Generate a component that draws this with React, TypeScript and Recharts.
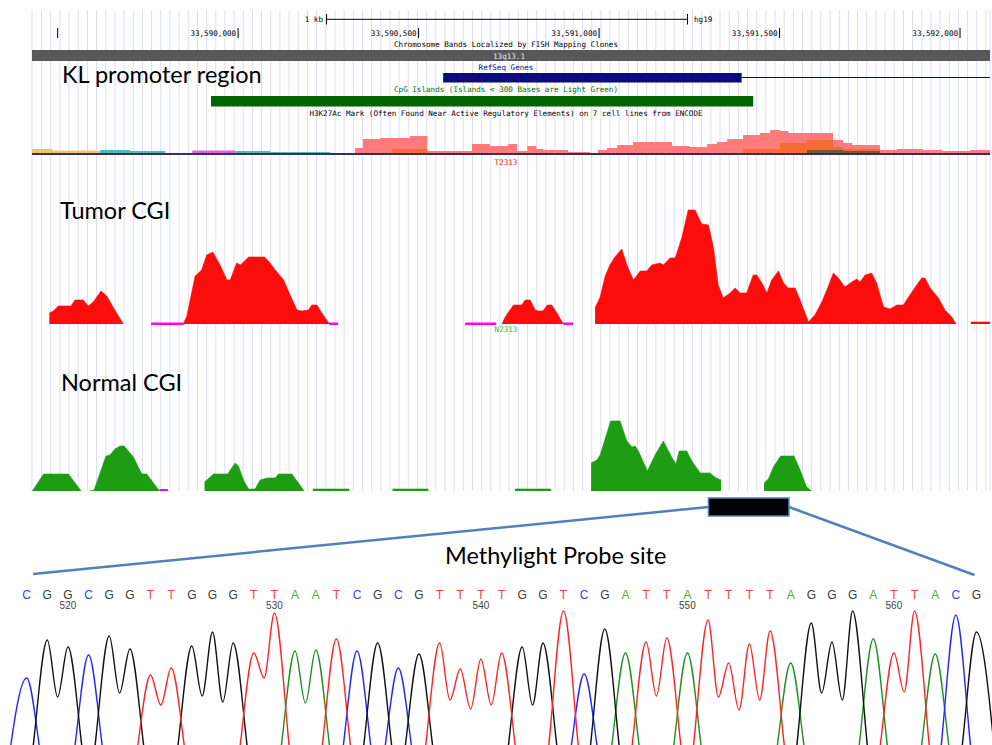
import React from 'react';
import {
  ComposedChart,
  LineChart,
  Line,
  Area,
  XAxis,
  YAxis,
  CartesianGrid,
  ReferenceArea,
  ReferenceLine
} from 'recharts';

// genome browser window, bp relative to chr13:33,590,000 (hg19)
const VIEW_START = -571;
const VIEW_END = 2083;

const rulerTicks = [-500, 0, 500, 1000, 1500, 2000];
const rulerLabels = ['', '33,590,000', '33,590,500', '33,591,000', '33,591,500', '33,592,000'];
const scaleBar = [245, 1245]; // 1 kb

// annotation tracks
const chromBand = { start: -571, end: 2083, name: '13q13.1' };
const refSeqExon = { start: 568, end: 1395 };
const refSeqIntron = { start: 1395, end: 2083 };
const cpgIsland = { start: -75, end: 1427 };
const probeSite = { start: 1303, end: 1526 };

// H3K27Ac (ENCODE, 7 cell lines) - binned signal
const h3Pos = [-571, -515, -396, -382, -299, -202, -127, -8, 89, 255, 324, 346, 393, 427, 476, 524, 648, 698, 748, 773, 801, 826, 845, 914, 975, 997, 1022, 1050, 1094, 1202, 1252, 1299, 1327, 1355, 1399, 1446, 1474, 1501, 1524, 1576, 1648, 1676, 1701, 1778, 1825, 1898, 1950, 2028, 2083];
const h3Pink = [0, 0, 0, 0, 0, 0, 0, 0, 0, 0, 7, 16, 17, 17, 19, 4, 11, 9, 11, 4, 9, 6, 5, 3, 0, 5, 7, 10, 13, 9, 8, 11, 13, 16, 20, 22, 25, 24, 22, 22, 15, 12, 10, 5, 6, 5, 4, 5, 5];
const h3Orange = [0, 0, 0, 0, 0, 0, 0, 0, 0, 0, 0, 0, 0, 6, 6, 2, 0, 0, 0, 0, 0, 0, 0, 0, 0, 0, 0, 0, 0, 0, 0, 0, 0, 0, 6, 6, 6, 12, 12, 15, 8, 6, 6, 0, 0, 0, 0, 0, 0];
const h3Olive = [0, 0, 0, 0, 0, 0, 0, 0, 0, 0, 0, 0, 0, 0, 0, 0, 0, 0, 0, 0, 0, 0, 0, 0, 0, 0, 0, 0, 0, 0, 0, 0, 0, 0, 0, 0, 0, 0, 0, 5, 5, 4, 4, 0, 0, 0, 0, 0, 0];
const h3Yellow = [6, 4.5, 4, 0, 0, 0, 0, 0, 0, 0, 0, 0, 0, 0, 0, 0, 0, 0, 0, 0, 0, 0, 0, 0, 0, 0, 0, 0, 0, 0, 0, 0, 0, 0, 0, 0, 0, 0, 0, 0, 0, 0, 0, 0, 0, 0, 0, 0, 0];
const h3Teal = [0, 0, 0, 5, 4, 0, 0, 4, 3, 1.5, 0, 0, 0, 0, 0, 0, 0, 0, 0, 0, 0, 0, 0, 0, 0, 0, 0, 0, 0, 0, 0, 0, 0, 0, 0, 0, 0, 0, 0, 0, 0, 0, 0, 0, 0, 0, 0, 0, 0];
const h3Magenta = [0, 0, 0, 0, 0, 0, 4.5, 0, 0, 0, 0, 0, 0, 0, 0, 0, 0, 0, 0, 0, 0, 0, 0, 0, 0, 0, 0, 0, 0, 0, 0, 0, 0, 0, 0, 0, 0, 0, 0, 0, 0, 0, 0, 0, 0, 0, 0, 0, 0];

// Tumor CGI (T2313) coverage, null = no data
const tumorPos = [
  -523, -512, -498, -463, -452, -429, -415, -401, -380, -364, -345, -318,
  -250,
  -152, -142, -119, -101, -87, -70, -50, -31, -22, -4, 6, 15, 29, 52, 73, 84, 103, 126, 144, 163, 176, 195, 204, 218, 232, 253,
  500,
  731, 740, 763, 786, 795, 809, 823, 832, 844, 857, 869, 883, 901,
  950,
  989, 1003, 1017, 1030, 1044, 1063, 1077, 1095, 1114, 1132, 1146, 1169, 1178, 1197, 1211, 1229, 1247, 1266, 1284, 1303, 1317, 1330, 1344, 1363, 1377, 1391, 1409, 1427, 1437, 1451, 1465, 1478, 1497, 1511, 1524, 1543, 1557, 1580, 1598, 1617, 1631, 1649, 1663, 1681, 1700, 1714, 1723, 1737, 1755, 1769, 1788, 1806, 1825, 1843, 1861, 1880, 1894, 1903, 1917, 1940, 1958, 1977, 1989,
  2010,
  2030, 2083
];
const tumorSignal = [
  11, 13, 18, 18, 24, 24, 18, 22, 33, 28, 16, 0,
  null,
  0, 8, 48, 54, 69, 72, 59, 44, 44, 61, 59, 62, 67, 67, 67, 63, 54, 44, 29, 14, 13, 14, 19, 19, 11, 0,
  null,
  0, 7, 19, 19, 24, 24, 14, 13, 13, 19, 19, 11, 0,
  null,
  16, 27, 48, 59, 67, 75, 59, 44, 53, 53, 59, 61, 59, 66, 66, 86, 114, 114, 100, 99, 76, 39, 26, 31, 36, 31, 31, 49, 49, 41, 31, 44, 53, 41, 36, 36, 24, 2, 9, 22, 34, 51, 46, 37, 42, 45, 42, 49, 51, 41, 17, 15, 19, 19, 29, 39, 46, 46, 36, 26, 14, 7, 0,
  null,
  2, 2
];
const tumorNoData = [[-241, -151], [252, 277], [629, 715], [901, 928]];

// Normal CGI (N2313) coverage
const normalPos = [
  -570, -539, -470, -435,
  -425,
  -412, -399, -366, -355, -341, -327, -316, -304, -290, -267, -253, -218,
  -150,
  -93, -68, -29, -8, 1, 15, 29, 47, 61, 80, 103, 112, 149, 167, 183,
  195,
  207, 308,
  350,
  428, 527,
  700,
  767, 867,
  920,
  978, 994, 1003, 1032, 1058, 1077, 1091, 1100, 1109, 1134, 1155, 1178, 1201, 1213, 1222, 1243, 1257, 1280, 1307, 1324, 1338,
  1400,
  1457, 1469, 1483, 1503, 1540, 1557, 1575, 1589
];
const normalSignal = [
  0, 17, 17, 0,
  null,
  0, 1, 35, 36, 42, 45, 45, 40, 34, 17, 17, 0,
  null,
  9, 17, 17, 28, 25, 11, 2, 2, 11, 13, 13, 17, 17, 8, 0,
  null,
  2, 2,
  null,
  2, 2,
  null,
  2, 2,
  null,
  28, 31, 36, 70, 70, 50, 44, 45, 40, 20, 36, 50, 34, 27, 40, 40, 30, 18, 18, 13, 11,
  null,
  8, 12, 24, 35, 35, 21, 4, 0
];
const normalNoData = [[-218, -194]];

// Sanger trace around the probe site
const baseCalls = 'CGGCGGTTGGGTTAATCGCGTTTTGGTCGATTATTTTAGGGATTACG'.split('');
const firstBase = 518;
const peakHeight = [102, 140, 133, 125, 144, 131, 105, 112, 134, 148, 137, 127, 167, 129, 130, 141, 129, 137, 112, 126, 137, 111, 121, 127, 133, 137, 169, 106, 151, 127, 138, 142, 127, 160, 117, 136, 149, 117, 157, 138, 169, 141, 127, 169, 126, 165, 148];
const valleyAt = [1.5, 4.5, 6.5, 8.5, 9.5, 11.5, 13.5, 20.5, 21.5, 22.5, 24.5, 30.5, 33.5, 34.5, 35.5, 38.5, 39.5, 42.5];
const valleyHeight = [83, 87, 75, 84, 78, 102, 77, 80, 71, 75, 75, 84, 83, 70, 80, 87, 80, 88];
const numberedBases = [520, 530, 540, 550, 560];

const CHANNELS = ['A', 'C', 'G', 'T'];
const TRACE_COLORS: Record<string, string> = { A: '#1f8f1f', C: '#2525ff', G: '#111111', T: '#ff2424' };
const LETTER_COLORS: Record<string, string> = { A: '#5aa834', C: '#3b3bff', G: '#3a3a3a', T: '#ff3a3a' };

const MONO = '"DejaVu Sans Mono", "Liberation Mono", monospace';
const SANS = 'Lato, "Open Sans", sans-serif';

const h3Rows = h3Pos.map((pos, i) => ({
  pos,
  pink: h3Pink[i],
  orange: h3Orange[i],
  olive: h3Olive[i],
  yellow: h3Yellow[i],
  teal: h3Teal[i],
  magenta: h3Magenta[i],
  base: 2
}));
const tumorRows = tumorPos.map((pos, i) => ({ pos, signal: tumorSignal[i] }));
const normalRows = normalPos.map((pos, i) => ({ pos, signal: normalSignal[i] }));

const traceRows: any[] = [];
const emptyRow = (x: number) => ({ x, A: 0, C: 0, G: 0, T: 0 });
traceRows.push(emptyRow(-1));
baseCalls.forEach((b, i) => {
  const row: any = { x: i };
  CHANNELS.forEach(ch => { row[ch] = b === ch ? peakHeight[i] : 0; });
  traceRows.push(row);
});
traceRows.push(emptyRow(baseCalls.length));
valleyAt.forEach((x, k) => {
  traceRows.push({ x, [baseCalls[Math.floor(x)]]: valleyHeight[k] });
});
traceRows.sort((a, b) => a.x - b.x);

// browser guidelines every ~25 bp
const guideTicks = Array.from({ length: 104 }, (_, k) => -544.5 + k * 25.4);

const W = 992;
const BROWSER_H = 495;
const browserMargin = { top: 10, right: 2, bottom: 4, left: 32 };
const layer: React.CSSProperties = { position: 'absolute', left: 0, top: 0 };

const RulerTick = (props: any) => {
  const { x, payload } = props;
  const label = rulerLabels[rulerTicks.indexOf(payload.value)];
  return (
    <g>
      <line x1={x} x2={x} y1={28} y2={38} stroke="#000" strokeWidth={1} />
      {label ? (
        <text x={x - 2} y={36} textAnchor="end" fontSize={7.6} fontFamily={MONO} fill="#000">
          {label}
        </text>
      ) : null}
    </g>
  );
};

const BaseTick = (props: any) => {
  const { x, payload } = props;
  const b = baseCalls[payload.value];
  return (
    <text x={x} y={18.5} textAnchor="middle" fontSize={12} fontFamily='"Liberation Sans", Arial, sans-serif' fill={LETTER_COLORS[b]}>
      {b}
    </text>
  );
};

const NumberTick = (props: any) => {
  const { x, payload } = props;
  return (
    <text x={x} y={29} textAnchor="middle" fontSize={10} fontFamily='"Liberation Sans", Arial, sans-serif' fill="#444">
      {firstBase + payload.value}
    </text>
  );
};

const GenomeX = (props: any) => (
  <XAxis
    dataKey="pos"
    type="number"
    domain={[VIEW_START, VIEW_END]}
    allowDataOverflow
    hide
    {...props}
  />
);

export default function App() {
  return (
    <div style={{ position: 'absolute', left: 0, top: 0, width: W, height: 745, overflow: 'hidden', background: '#fff' }}>
      {/* ruler, guidelines, annotation tracks, H3K27Ac */}
      <div style={layer}>
        <ComposedChart width={W} height={BROWSER_H} data={h3Rows} margin={{ ...browserMargin, top: 9 }}>
          <XAxis
            dataKey="pos"
            type="number"
            domain={[VIEW_START, VIEW_END]}
            allowDataOverflow
            orientation="top"
            height={1}
            ticks={rulerTicks}
            interval={0}
            axisLine={false}
            tickLine={false}
            tick={<RulerTick />}
          />
          <XAxis
            xAxisId="grid"
            dataKey="pos"
            type="number"
            domain={[VIEW_START, VIEW_END]}
            allowDataOverflow
            hide
            ticks={guideTicks}
            interval={0}
          />
          <YAxis yAxisId="h3" hide domain={[-336, 145]} allowDataOverflow />
          <YAxis yAxisId="px" hide domain={[0, 481]} reversed allowDataOverflow />
          <CartesianGrid xAxisId="grid" yAxisId="px" horizontal={false} stroke="#dddcf9" strokeWidth={1} />

          <ReferenceArea yAxisId="px" x1={chromBand.start} x2={chromBand.end} y1={40} y2={51} fill="#585858" fillOpacity={1} />
          <ReferenceArea yAxisId="px" x1={refSeqExon.start} x2={refSeqExon.end} y1={63} y2={72.5} fill="#0b0b7a" fillOpacity={1} />
          <ReferenceLine
            yAxisId="px"
            segment={[{ x: refSeqIntron.start, y: 67.5 }, { x: refSeqIntron.end, y: 67.5 }]}
            stroke="#0b0b7a"
            strokeWidth={1.2}
          />
          <ReferenceArea yAxisId="px" x1={cpgIsland.start} x2={cpgIsland.end} y1={86} y2={96.5} fill="#006400" fillOpacity={1} />

          <ReferenceLine yAxisId="px" segment={[{ x: scaleBar[0], y: 9.3 }, { x: scaleBar[1], y: 9.3 }]} stroke="#000" strokeWidth={1} />
          <ReferenceLine yAxisId="px" segment={[{ x: scaleBar[0], y: 4 }, { x: scaleBar[0], y: 14.5 }]} stroke="#000" strokeWidth={1} />
          <ReferenceLine yAxisId="px" segment={[{ x: scaleBar[1], y: 4 }, { x: scaleBar[1], y: 14.5 }]} stroke="#000" strokeWidth={1} />

          <Area yAxisId="h3" type="stepAfter" dataKey="yellow" fill="#f2c46a" fillOpacity={1} stroke="none" baseValue={0} isAnimationActive={false} />
          <Area yAxisId="h3" type="stepAfter" dataKey="teal" fill="#3fbfb6" fillOpacity={1} stroke="none" baseValue={0} isAnimationActive={false} />
          <Area yAxisId="h3" type="stepAfter" dataKey="magenta" fill="#e45ee4" fillOpacity={1} stroke="none" baseValue={0} isAnimationActive={false} />
          <Area yAxisId="h3" type="stepAfter" dataKey="pink" fill="#ff7a7a" fillOpacity={1} stroke="none" baseValue={0} isAnimationActive={false} />
          <Area yAxisId="h3" type="stepAfter" dataKey="orange" fill="#f7692c" fillOpacity={0.9} stroke="none" baseValue={0} isAnimationActive={false} />
          <Area yAxisId="h3" type="stepAfter" dataKey="olive" fill="#5b5530" fillOpacity={0.85} stroke="none" baseValue={0} isAnimationActive={false} />
          <Area yAxisId="h3" type="stepAfter" dataKey="base" fill="#3d2b66" fillOpacity={1} stroke="none" baseValue={0} isAnimationActive={false} />
        </ComposedChart>
      </div>

      {/* Tumor CGI */}
      <div style={layer}>
        <ComposedChart width={W} height={BROWSER_H} data={tumorRows} margin={browserMargin}>
          <GenomeX />
          <YAxis hide domain={[-167, 314]} allowDataOverflow />
          {tumorNoData.map(([s, e], i) => (
            <ReferenceArea key={i} x1={s} x2={e} y1={-1} y2={1.5} fill="#ff00ff" fillOpacity={1} />
          ))}
          <Area
            type="linear"
            dataKey="signal"
            fill="#fd0c0c"
            fillOpacity={1}
            stroke="#fd0c0c"
            strokeWidth={0.6}
            baseValue={0}
            connectNulls={false}
            isAnimationActive={false}
            dot={false}
            activeDot={false}
          />
        </ComposedChart>
      </div>

      {/* Normal CGI */}
      <div style={layer}>
        <ComposedChart width={W} height={BROWSER_H} data={normalRows} margin={browserMargin}>
          <GenomeX />
          <YAxis hide domain={[0, 481]} allowDataOverflow />
          {normalNoData.map(([s, e], i) => (
            <ReferenceArea key={i} x1={s} x2={e} y1={0} y2={2} fill="#ff00ff" fillOpacity={1} />
          ))}
          <Area
            type="linear"
            dataKey="signal"
            fill="#1e9c14"
            fillOpacity={1}
            stroke="#1e9c14"
            strokeWidth={0.6}
            baseValue={0}
            connectNulls={false}
            isAnimationActive={false}
            dot={false}
            activeDot={false}
          />
        </ComposedChart>
      </div>

      {/* probe site and callout */}
      <div style={{ ...layer, top: 491 }}>
        <ComposedChart width={W} height={90} data={normalRows} margin={{ top: 0, right: 2, bottom: 0, left: 32 }}>
          <GenomeX />
          <YAxis hide domain={[0, 90]} reversed allowDataOverflow />
          <ReferenceLine segment={[{ x: probeSite.start, y: 16 }, { x: -568, y: 83 }]} stroke="#4f81bd" strokeWidth={2.5} />
          <ReferenceLine segment={[{ x: probeSite.end, y: 16 }, { x: 2040, y: 84 }]} stroke="#4f81bd" strokeWidth={2.5} />
          <ReferenceArea x1={probeSite.start} x2={probeSite.end} y1={7} y2={25} fill="#000" fillOpacity={1} stroke="#4f81bd" strokeWidth={1.5} />
        </ComposedChart>
      </div>

      {/* chromatogram */}
      <div style={{ ...layer, top: 580 }}>
        <LineChart width={W} height={200} data={traceRows} margin={{ top: 18, right: 0, bottom: 0, left: 0 }}>
          <XAxis
            dataKey="x"
            type="number"
            domain={[-1.29, 46.75]}
            allowDataOverflow
            orientation="top"
            height={1}
            ticks={baseCalls.map((_, i) => i)}
            interval={0}
            axisLine={false}
            tickLine={false}
            tick={<BaseTick />}
          />
          <XAxis
            xAxisId="nums"
            dataKey="x"
            type="number"
            domain={[-1.29, 46.75]}
            allowDataOverflow
            orientation="top"
            height={1}
            ticks={numberedBases.map(n => n - firstBase)}
            interval={0}
            axisLine={false}
            tickLine={false}
            tick={<NumberTick />}
          />
          <YAxis hide domain={[0, 180]} allowDataOverflow />
          {CHANNELS.map(ch => (
            <Line
              key={ch}
              type="monotone"
              dataKey={ch}
              stroke={TRACE_COLORS[ch]}
              strokeWidth={1.4}
              dot={false}
              activeDot={false}
              connectNulls
              isAnimationActive={false}
            />
          ))}
        </LineChart>
      </div>

      {/* labels */}
      <svg width={W} height={745} style={{ ...layer, pointerEvents: 'none' }}>
        <g fontFamily={MONO} fontSize={7.6}>
          <text x={323} y={22} textAnchor="end" fill="#000">1 kb</text>
          <text x={694} y={22} fill="#000">hg19</text>
          <text x={506} y={47} textAnchor="middle" fill="#000">Chromosome Bands Localized by FISH Mapping Clones</text>
          <text x={493} y={59} fill="#e8e8e8">{chromBand.name}</text>
          <text x={506} y={70} textAnchor="middle" fill="#0b0b7a">RefSeq Genes</text>
          <text x={506} y={92} textAnchor="middle" fill="#007000">CpG Islands (Islands &lt; 300 Bases are Light Green)</text>
          <text x={506} y={116} textAnchor="middle" fill="#000">H3K27Ac Mark (Often Found Near Active Regulatory Elements) on 7 cell lines from ENCODE</text>
          <text x={506} y={165} textAnchor="middle" fill="#ff2020">T2313</text>
          <text x={506} y={332} textAnchor="middle" fill="#3cb83c">N2313</text>
        </g>
        <g fontFamily={SANS} fontSize={23.5} fill="#000">
          <text x={62} y={83}>KL promoter region</text>
          <text x={60} y={219}>Tumor CGI</text>
          <text x={61} y={391}>Normal CGI</text>
          <text x={445} y={564}>Methylight Probe site</text>
        </g>
      </svg>
    </div>
  );
}
